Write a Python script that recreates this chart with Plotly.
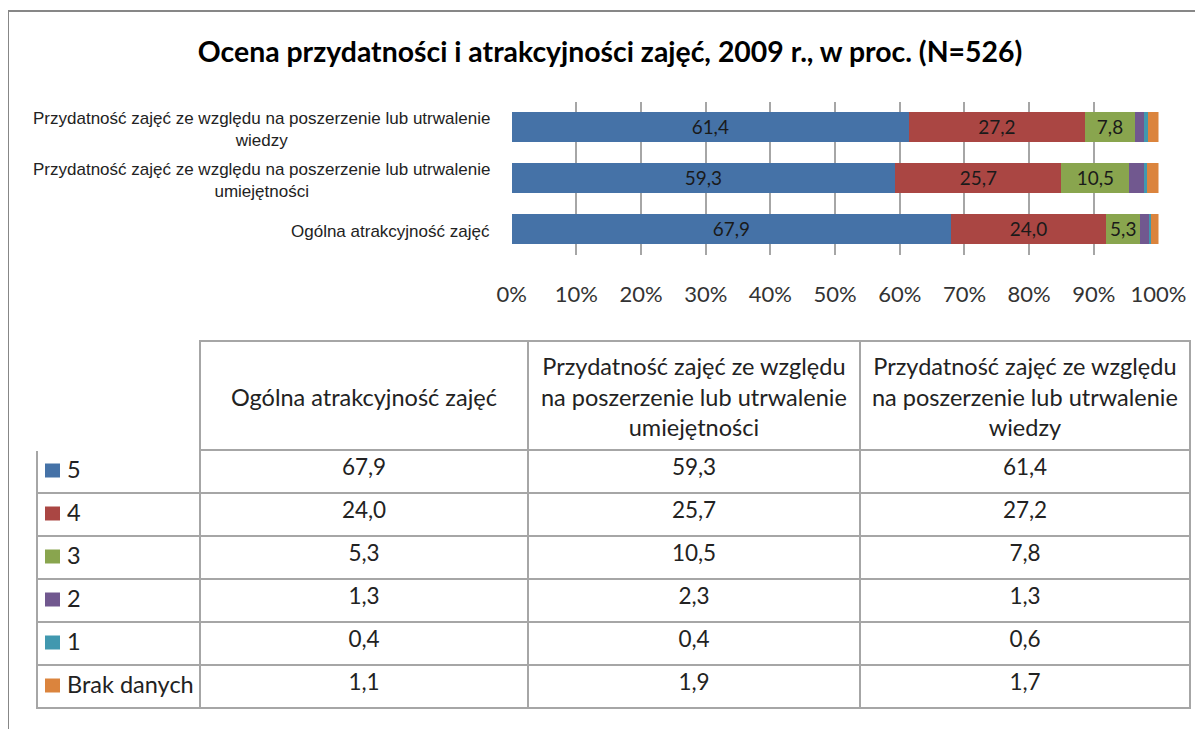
import plotly.graph_objects as go

# ---- data ----
categories = [
    "Ogólna atrakcyjność zajęć",
    "Przydatność zajęć ze względu na poszerzenie lub utrwalenie<br>umiejętności",
    "Przydatność zajęć ze względu na poszerzenie lub utrwalenie<br>wiedzy",
]
series_names = ["5", "4", "3", "2", "1", "Brak danych"]
s5 = [67.9, 59.3, 61.4]
s4 = [24.0, 25.7, 27.2]
s3 = [5.3, 10.5, 7.8]
s2 = [1.3, 2.3, 1.3]
s1 = [0.4, 0.4, 0.6]
brak = [1.1, 1.9, 1.7]
series_values = [s5, s4, s3, s2, s1, brak]
labelled = [True, True, True, False, False, False]
colors = ["#4572A7", "#AA4643", "#89A54E", "#71588F", "#4198AF", "#DB843D"]
tick_vals = [0, 10, 20, 30, 40, 50, 60, 70, 80, 90, 100]
tick_text = [f"{v}%" for v in tick_vals]
table_headers = [
    "",
    "Ogólna atrakcyjność zajęć",
    "Przydatność zajęć ze względu<br>na poszerzenie lub utrwalenie<br>umiejętności",
    "Przydatność zajęć ze względu<br>na poszerzenie lub utrwalenie<br>wiedzy",
]

# page has an 8px body margin: figure covers window pixels 8..1203 x 8..729
OFF = 8
W, H = 1203 - OFF, 729 - OFF
def px(x):
    return (x - OFF) / W
def py(y):
    return 1 - (y - OFF) / H

def fmt(v):
    return f"{v:.1f}".replace(".", ",")

GRID = "#A6A6A6"
TXT = "#222222"

fig = go.Figure()
for name, vals, col, lab in zip(series_names, series_values, colors, labelled):
    fig.add_trace(go.Bar(
        y=categories, x=vals, name=name, orientation="h",
        marker=dict(color=col, line=dict(width=0)),
        text=[fmt(v) for v in vals] if lab else None,
        textposition="inside" if lab else "none",
        insidetextanchor="middle",
        textangle=0,
        textfont=dict(family="Lato", size=23, color="#1a1a1a"),
        hoverinfo="skip",
    ))

annotations = []
shapes = []
# category labels (centered multi-line, right-anchored)
for c in categories:
    annotations.append(dict(
        x=px(492), xref="paper", y=c, yref="y", yshift=-3, text=c,
        xanchor="right", yanchor="middle", align="center", showarrow=False,
        font=dict(family="Liberation Sans", size=17, color=TXT),
    ))

# ---- data table ----
tbl_left, tbl_top = 37, 341
col_w = [163, 328, 332, 330]
head_h, row_h = 109, 43
tbl_bottom = tbl_top + head_h + row_h * len(series_names)

cols = [[""] * len(series_names)]
for i in range(3):
    cols.append([fmt(v[i]) for v in series_values])

fig.add_trace(go.Table(
    domain=dict(x=[px(tbl_left), px(tbl_left + sum(col_w))], y=[py(tbl_bottom + 2), py(tbl_top)]),
    columnwidth=col_w,
    header=dict(
        values=[""] * 4,
        height=head_h,
        line=dict(color=["white", GRID, GRID, GRID], width=1.5),
        fill=dict(color="white"),
    ),
    cells=dict(
        values=cols,
        height=row_h,
        align="center",
        font=dict(family="Lato", size=22.5, color=TXT),
        line=dict(color=GRID, width=1.5),
        fill=dict(color="white"),
    ),
))

# header texts (centered lines)
x_acc = tbl_left
for w, htxt in zip(col_w, table_headers):
    if htxt:
        annotations.append(dict(
            x=px(x_acc + w / 2), y=py(tbl_top + head_h / 2 + 1), xref="paper", yref="paper",
            text=htxt, xanchor="center", yanchor="middle", align="center", showarrow=False,
            font=dict(family="Lato", size=23.5, color=TXT),
        ))
    x_acc += w

# legend entries in the first column
for i, (name, col) in enumerate(zip(series_names, colors)):
    yc = tbl_top + head_h + row_h * (i + 0.5)
    shapes.append(dict(
        type="rect", xref="paper", yref="paper",
        x0=px(45), x1=px(60), y0=py(yc - 8), y1=py(yc + 6),
        fillcolor=col, line=dict(width=0),
    ))
    annotations.append(dict(
        x=px(65), y=py(yc), yshift=3, xref="paper", yref="paper",
        text=name, xanchor="left", yanchor="middle", align="left", showarrow=False,
        font=dict(family="Lato", size=23.5, color=TXT),
    ))

shapes += [
    dict(type="line", xref="paper", yref="paper", x0=px(8), x1=1, y0=py(11), y1=py(11),
         line=dict(color="#878787", width=2)),
    dict(type="line", xref="paper", yref="paper", x0=px(8), x1=px(8), y0=py(11), y1=0,
         line=dict(color="#878787", width=2)),
]

fig.update_layout(
    width=W, height=H,
    margin=dict(l=0, r=0, t=0, b=0, autoexpand=False),
    paper_bgcolor="white", plot_bgcolor="white",
    barmode="stack", bargap=0.43,
    showlegend=False,
    title=dict(
        text="Ocena przydatności i atrakcyjności zajęć, 2009 r., w proc. (N=526)",
        x=px(610), xanchor="center", y=py(52), yanchor="middle",
        font=dict(family="Lato", size=28.4, color="#000000", weight="bold"),
    ),
    xaxis=dict(
        domain=[px(511.7), px(1158.5)], range=[0, 100],
        tickvals=tick_vals, ticktext=tick_text,
        showgrid=True, gridcolor=GRID, gridwidth=1.5,
        zeroline=False, showline=False, ticks="",
        ticklabelstandoff=24, automargin=False,
        tickfont=dict(family="Lato", size=22, color="#333333"),
        fixedrange=True,
    ),
    yaxis=dict(
        domain=[py(254.5), py(101.5)], automargin=False,
        showticklabels=False, showgrid=False, zeroline=False, showline=False,
        fixedrange=True,
    ),
    annotations=annotations,
    shapes=shapes,
)

fig.write_html("out.html")
